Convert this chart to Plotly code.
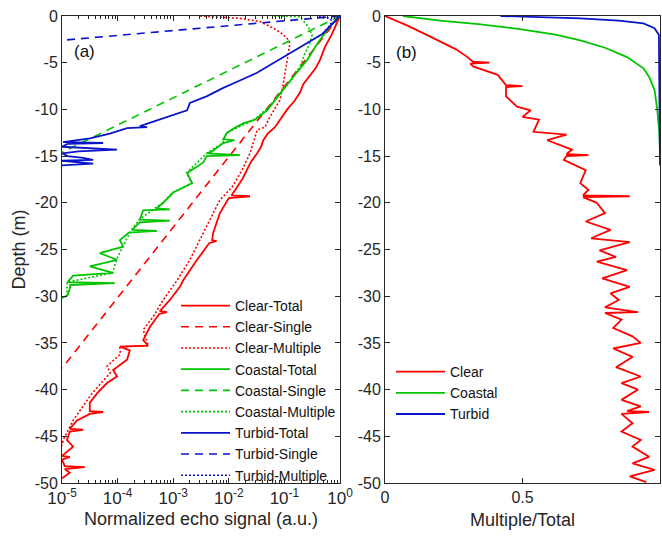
import numpy as np
import plotly.graph_objects as go

# ---------------- data (depth in m, log10 of normalized echo signal) ----------------
clear_total = [(0, 0), (-2, -0.15), (-3.3, -0.27), (-4.7, -0.36), (-5.6, -0.44), (-6.5, -0.55),
               (-7.3, -0.66), (-8.2, -0.72), (-9.1, -0.82), (-10, -0.95), (-10.9, -1.05),
               (-11.9, -1.17), (-12.6, -1.3), (-13.3, -1.38), (-14.0, -1.42), (-14.7, -1.49),
               (-15.6, -1.6), (-16.5, -1.67), (-17.4, -1.75), (-18.3, -1.85), (-19.2, -1.95),
               (-19.3, -1.62), (-19.5, -2.0), (-21.1, -2.16), (-23.2, -2.28), (-24.0, -2.3),
               (-24.1, -2.22), (-24.3, -2.35), (-26.1, -2.57), (-28.3, -2.82), (-29.0, -2.88),
               (-30.4, -3.06), (-31.6, -3.24), (-31.7, -3.11), (-31.9, -3.25), (-33.3, -3.42),
               (-34.7, -3.54), (-35.3, -3.45), (-35.4, -3.96), (-35.8, -3.78), (-36.8, -3.83),
               (-37.9, -4.08), (-38.6, -4.01), (-39.3, -4.19), (-40.4, -4.37), (-41.4, -4.5),
               (-42.3, -4.5), (-42.4, -4.26), (-42.6, -4.5), (-43.3, -4.73), (-44.2, -4.86),
               (-44.3, -4.62), (-44.5, -4.86), (-45.4, -4.91), (-46.1, -4.8), (-47.1, -5.0),
               (-47.2, -4.86), (-47.5, -5.0), (-48.2, -4.95), (-48.3, -4.59), (-48.5, -4.95),
               (-48.9, -4.86), (-49.5, -5.0)]
clear_single = [(0, 0), (-37.7, -5)]
clear_multiple = [(0, -2.52), (-0.25, -1.80), (-0.6, -1.44), (-1.3, -1.2), (-1.9, -1.04),
                  (-2.4, -0.95), (-2.9, -0.90), (-4.7, -0.95), (-6.5, -0.99), (-7.6, -1.03),
                  (-9.0, -1.08), (-10.8, -1.26), (-11.9, -1.35), (-12.2, -1.49), (-14.7, -1.62),
                  (-16.5, -1.76), (-18.3, -1.94), (-19.7, -2.16), (-21.1, -2.28), (-23.2, -2.46),
                  (-26.1, -2.7), (-28.3, -2.93), (-30.4, -3.18), (-32.2, -3.36), (-33.6, -3.54),
                  (-35.3, -3.45), (-35.4, -3.96), (-36.2, -3.95), (-37.5, -4.19), (-38.2, -4.13),
                  (-40.4, -4.46), (-43.3, -4.8), (-45.4, -4.98), (-46.0, -5.0)]

coastal_total = [(0, 0), (-1.1, -0.18), (-2.9, -0.40), (-4.7, -0.59), (-6.5, -0.84), (-8.3, -1.08),
                 (-10.1, -1.31), (-11.1, -1.53), (-11.5, -1.74), (-12.0, -1.9), (-12.5, -2.03),
                 (-13.2, -2.1), (-13.3, -1.9), (-13.6, -2.1), (-14.5, -2.3), (-14.7, -2.39),
                 (-14.9, -1.8), (-15.0, -2.4), (-15.7, -2.46), (-16.8, -2.75), (-17.9, -2.66),
                 (-18.9, -3.0), (-20.0, -3.18), (-20.6, -3.3), (-20.7, -3.06), (-20.8, -3.54),
                 (-21.8, -3.6), (-21.9, -3.06), (-22.1, -3.6), (-22.9, -3.74), (-23.0, -3.29),
                 (-23.2, -3.8), (-24.0, -3.96), (-24.7, -3.9), (-25.4, -4.32), (-26.1, -4.01),
                 (-26.8, -4.5), (-27.5, -4.08), (-27.8, -4.8), (-28.5, -4.9), (-28.6, -4.05),
                 (-28.8, -4.85), (-29.2, -4.86), (-29.9, -4.9), (-30.2, -5.0)]
coastal_single = [(0, 0), (-14.6, -5)]
coastal_multiple = [(0, -1.19), (-0.07, -0.72), (-1.1, -0.58), (-2.0, -0.5), (-2.9, -0.54),
                    (-4.0, -0.63), (-5.4, -0.72), (-6.9, -0.88), (-8.3, -1.09), (-9.7, -1.27),
                    (-11.1, -1.54), (-12.5, -2.04), (-13.6, -2.11), (-14.7, -2.40),
                    (-16.8, -2.76), (-17.9, -2.67), (-18.9, -3.01), (-20.0, -3.19),
                    (-21.8, -3.61), (-22.9, -3.75), (-24.7, -3.91), (-26.1, -4.02),
                    (-27.5, -4.09), (-28.5, -4.91), (-29.9, -4.91)]

turbid_total = [(0, 0), (-1.9, -0.31), (-2.9, -0.59), (-4.0, -0.9), (-5.1, -1.2), (-6.1, -1.5),
                (-6.9, -1.8), (-7.7, -2.1), (-8.6, -2.4), (-9.3, -2.7), (-10.1, -2.75),
                (-11.1, -3.24), (-11.8, -3.6), (-11.9, -3.47), (-12.0, -3.83), (-12.6, -4.14),
                (-13.1, -4.5), (-13.5, -4.98), (-13.6, -4.26), (-13.7, -4.9), (-14.0, -5.0),
                (-14.3, -4.01), (-14.5, -4.7), (-14.7, -5.0), (-15.0, -4.9), (-15.2, -4.62),
                (-15.4, -4.44), (-15.5, -5.0), (-15.8, -4.44), (-16.0, -5.0)]
turbid_single = [(0, 0), (-2.6, -5)]
turbid_multiple = [(0, -0.38), (-0.25, -0.19), (-0.5, -0.15), (-0.8, -0.16), (-1.3, -0.22),
                   (-2.0, -0.33)]

# ---------------- data: Multiple/Total ratio (depth, ratio) ----------------
clear_ratio = [(0, 0), (-1.0, 0.08), (-2.0, 0.15), (-2.75, 0.2), (-3.6, 0.26), (-4.4, 0.30),
               (-4.9, 0.32), (-5.0, 0.38), (-5.1, 0.31), (-5.4, 0.32), (-6.3, 0.41), (-7.4, 0.44),
               (-7.5, 0.5), (-7.6, 0.44), (-8.6, 0.44), (-9.7, 0.48), (-10.1, 0.53), (-10.8, 0.5),
               (-11.1, 0.56), (-12.4, 0.54), (-12.7, 0.66), (-13.3, 0.59), (-14.3, 0.68),
               (-14.8, 0.66), (-14.9, 0.74), (-15.0, 0.66), (-15.4, 0.65), (-16.5, 0.73),
               (-17.9, 0.71), (-18.6, 0.74), (-19.2, 0.72), (-19.3, 0.89), (-19.4, 0.72),
               (-20.0, 0.77), (-21.1, 0.80), (-22.0, 0.73), (-22.9, 0.82), (-23.8, 0.75),
               (-24.2, 0.89), (-25.1, 0.78), (-25.8, 0.84), (-26.3, 0.77), (-27.2, 0.88),
               (-28.1, 0.79), (-29.0, 0.89), (-29.7, 0.82), (-30.4, 0.85), (-31.2, 0.80),
               (-31.7, 0.92), (-31.8, 0.80), (-32.5, 0.86), (-33.4, 0.83), (-34.3, 0.90),
               (-35.0, 0.93), (-35.6, 0.83), (-36.5, 0.90), (-37.6, 0.84), (-38.6, 0.93),
               (-39.3, 0.86), (-40.0, 0.92), (-41.1, 0.86), (-41.8, 0.93), (-42.3, 0.88),
               (-42.4, 0.96), (-42.6, 0.86), (-43.6, 0.90), (-44.5, 0.86), (-45.4, 0.93),
               (-46.1, 0.90), (-47.2, 0.96), (-47.9, 0.90), (-48.6, 0.98), (-49.3, 0.89),
               (-49.9, 0.95)]
coastal_ratio = [(0, 0.065), (-0.5, 0.2), (-0.86, 0.34), (-1.4, 0.49), (-2.0, 0.62), (-2.6, 0.71),
                 (-3.4, 0.80), (-4.4, 0.88), (-5.6, 0.94), (-6.5, 0.96), (-7.9, 0.98),
                 (-10.0, 0.99), (-12.2, 0.997), (-14.4, 1.0)]
turbid_ratio = [(0, 0.42), (-0.05, 0.5), (-0.25, 0.71), (-0.5, 0.85), (-0.8, 0.94), (-1.3, 0.98),
                (-2.0, 0.996), (-16.0, 1.0)]

x_tick_vals = [1e-5, 1e-4, 1e-3, 1e-2, 1e-1, 1e0]
x_tick_text = ["10<sup>-5</sup>", "10<sup>-4</sup>", "10<sup>-3</sup>", "10<sup>-2</sup>",
               "10<sup>-1</sup>", "10<sup>0</sup>"]
y_tick_vals = [0, -5, -10, -15, -20, -25, -30, -35, -40, -45, -50]
y_tick_text = ["0", "-5", "-10", "-15", "-20", "-25", "-30", "-35", "-40", "-45", "-50"]
x2_tick_vals = [0, 0.5, 1]
x2_tick_text = ["0", "0.5", "1"]

RED, GREEN, BLUE = "#ff0000", "#00c400", "#0a14c8"
W, H = 662, 539
FONT = "Liberation Sans, Arial, sans-serif"
INK = "#262626"

fig = go.Figure()


def add_sig(data, name, color, dash, width):
    d = np.array(data, dtype=float)
    fig.add_trace(go.Scatter(x=10 ** d[:, 1], y=d[:, 0], mode="lines", name=name,
                             line=dict(color=color, dash=dash, width=width),
                             xaxis="x", yaxis="y", legend="legend"))


DASH = "8px,6px"
DOT = "2px,2px"
add_sig(clear_total, "Clear-Total", RED, "solid", 1.8)
add_sig(clear_single, "Clear-Single", RED, DASH, 1.6)
add_sig(clear_multiple, "Clear-Multiple", RED, DOT, 1.6)
add_sig(coastal_total, "Coastal-Total", GREEN, "solid", 1.8)
add_sig(coastal_single, "Coastal-Single", GREEN, DASH, 1.6)
add_sig(coastal_multiple, "Coastal-Multiple", GREEN, DOT, 1.6)
add_sig(turbid_total, "Turbid-Total", BLUE, "solid", 1.8)
add_sig(turbid_single, "Turbid-Single", BLUE, DASH, 1.6)
add_sig(turbid_multiple, "Turbid-Multiple", BLUE, DOT, 1.6)

for data, name, color in [(clear_ratio, "Clear", RED), (coastal_ratio, "Coastal", GREEN),
                          (turbid_ratio, "Turbid", BLUE)]:
    d = np.array(data, dtype=float)
    fig.add_trace(go.Scatter(x=d[:, 1], y=d[:, 0], mode="lines", name=name,
                             line=dict(color=color, width=1.8),
                             xaxis="x2", yaxis="y2", legend="legend2"))

minor_vals = [m * 10.0 ** e for e in range(-5, 0) for m in range(2, 10)]

axis_common = dict(showline=True, linecolor=INK, linewidth=1, mirror="ticks", ticks="inside",
                   ticklen=5, tickcolor=INK, showgrid=False, zeroline=False, automargin=False,
                   tickfont=dict(family=FONT, size=16, color=INK))

PL, PR1 = 62, 340
PL2, PR2 = 385, 660
PT, PB = 16, 483


def py(p):  # pixel y -> paper y
    return (PB - p) / (PB - PT)


fig.update_layout(
    width=W, height=H,
    margin=dict(l=0, r=0, t=PT, b=H - PB, autoexpand=False),
    paper_bgcolor="white", plot_bgcolor="white",
    font=dict(family=FONT, color=INK),
    xaxis=dict(axis_common, type="log", range=[-5, 0], domain=[PL / W, PR1 / W],
               tickvals=x_tick_vals, ticktext=x_tick_text, anchor="y",
               tickfont=dict(family=FONT, size=17, color=INK),
               minor=dict(tickvals=minor_vals, ticks="inside", ticklen=3, tickcolor=INK),
               title=dict(text="Normalized echo signal (a.u.)",
                          font=dict(family=FONT, size=18, color=INK), standoff=4)),
    yaxis=dict(axis_common, range=[-50, 0], tickvals=y_tick_vals, ticktext=y_tick_text,
               anchor="x", domain=[0, 1],
               title=dict(text="Depth (m)", font=dict(family=FONT, size=18, color=INK), standoff=4)),
    xaxis2=dict(axis_common, range=[0, 1], domain=[PL2 / W, PR2 / W], tickvals=x2_tick_vals,
                ticktext=x2_tick_text, anchor="y2",
                title=dict(text="Multiple/Total", font=dict(family=FONT, size=18, color=INK),
                           standoff=8)),
    yaxis2=dict(axis_common, range=[-50, 0], tickvals=y_tick_vals, ticktext=y_tick_text,
                anchor="x2", domain=[0, 1]),
    legend=dict(x=176 / W, y=py(290), xanchor="left", yanchor="top", bgcolor="rgba(0,0,0,0)",
                font=dict(family=FONT, size=14, color="#111"), tracegroupgap=0,
                borderwidth=0, itemwidth=49),
    legend2=dict(x=391 / W, y=py(356), xanchor="left", yanchor="top", bgcolor="rgba(0,0,0,0)",
                 font=dict(family=FONT, size=14, color="#111"), tracegroupgap=0,
                 borderwidth=0, itemwidth=49),
    showlegend=True,
    annotations=[
        dict(text="(a)", x=84 / W, y=py(51), xref="paper", yref="paper", showarrow=False,
             xanchor="center", yanchor="middle",
             font=dict(family=FONT, size=17, color="#111")),
        dict(text="(b)", x=406 / W, y=py(52), xref="paper", yref="paper", showarrow=False,
             xanchor="center", yanchor="middle",
             font=dict(family=FONT, size=17, color="#111")),
    ],
)

fig.write_html("out.html", config={"displayModeBar": False},
               post_script="document.body.style.margin='0px';document.body.style.overflow='hidden';")
